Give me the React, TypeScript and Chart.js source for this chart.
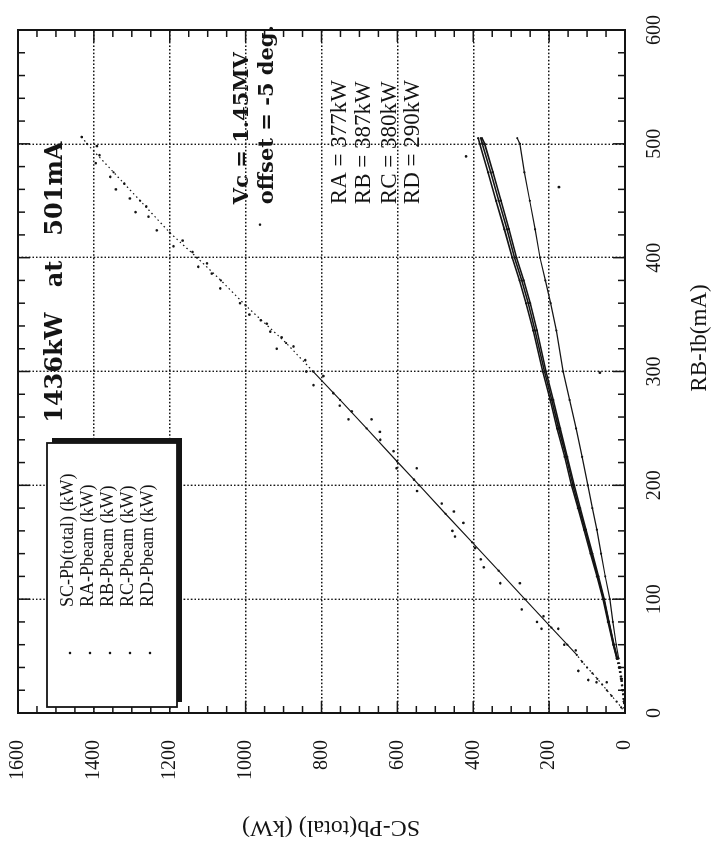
import React, { useEffect, useRef } from "react";
import { Chart, registerables } from "chart.js";

Chart.register(...registerables);

// ---- data (RB-Ib in mA, powers in kW) ----
const xMin = 0;
const xMax = 600;
const xStep = 100;
const yMin = 0;
const yMax = 1600;
const yStep = 200;

const totalCurrent = [0, 5, 10, 15, 20, 25, 30, 35, 40, 45, 51, 60, 75, 100, 125, 150, 175, 200, 221, 250, 275, 300, 325, 358, 380, 400, 422, 450, 475, 500, 506];
const totalPower = [0, 10, 22, 35, 48, 60, 73, 86, 100, 113, 127, 152, 194, 264, 333, 403, 473, 542, 601, 681, 751, 822, 893, 1000, 1065, 1128, 1200, 1278, 1348, 1418, 1432];

const totalScatterCurrent = [506, 498, 490, 483, 471, 465, 460, 452, 445, 440, 436, 429, 424, 415, 410, 405, 395, 392, 386, 373, 360, 350, 345, 342, 335, 330, 322, 320, 310, 300, 296, 288, 281, 270, 265, 258, 258, 247, 240, 230, 215, 215, 205, 195, 184, 177, 167, 160, 155, 145, 135, 128, 114, 114, 91, 85, 80, 74, 74, 60, 55, 37, 29, 27, 27];
const totalScatterPower = [1432, 1392, 1385, 1395, 1357, 1320, 1342, 1305, 1262, 1290, 1256, 962, 1234, 1166, 1190, 1140, 1102, 1125, 1089, 1067, 1015, 990, 960, 944, 935, 905, 874, 918, 843, 840, 795, 821, 769, 752, 720, 729, 668, 646, 645, 610, 602, 549, 556, 548, 483, 451, 426, 455, 448, 395, 380, 372, 329, 277, 272, 215, 232, 220, 176, 160, 130, 123, 97, 75, 48];

const cavityCurrent = [0, 10, 20, 30, 40, 48, 60, 80, 100, 120, 140, 161, 180, 200, 225, 250, 275, 300, 336, 360, 380, 400, 425, 450, 475, 500, 505];
const raPower = [0, 3, 6, 9, 14, 20, 29, 42, 55, 70, 86, 103, 118, 134, 152, 171, 189, 208, 232, 250, 267, 286, 306, 327, 348, 370, 377];
const rbPower = [0, 3, 7, 11, 16, 22, 31, 45, 58, 74, 91, 108, 124, 141, 159, 179, 197, 217, 242, 261, 278, 297, 318, 340, 361, 383, 387];
const rcPower = [0, 3, 6, 10, 15, 21, 30, 43, 56, 72, 88, 105, 121, 137, 155, 175, 193, 212, 237, 255, 272, 291, 311, 333, 354, 376, 380];
const rdPower = [0, 2, 5, 8, 12, 17, 23, 32, 40, 52, 63, 74, 86, 98, 113, 129, 146, 163, 181, 196, 210, 224, 237, 251, 265, 277, 284];

const strayCurrent = [489, 462, 299];
const strayPower = [419, 174, 66];

const legendLabels = ["SC-Pb(total) (kW)", "RA-Pbeam (kW)", "RB-Pbeam (kW)", "RC-Pbeam (kW)", "RD-Pbeam (kW)"];
const xTitle = "RB-Ib(mA)";
const yTitle = "SC-Pb(total) (kW)";
const headline = "1436kW   at   501mA";
const conditionLines = ["Vc = 1.45MV", "offset = -5 deg."];
const cavityLines = ["RA = 377kW", "RB = 387kW", "RC = 380kW", "RD = 290kW"];

// ---- canvas (drawn unrotated, then the whole figure is turned 90° CCW) ----
const CW = 854;
const CH = 716;
const INK = "#141414";

const toPoints = (xs: number[], ys: number[]) => xs.map((x, i) => ({ x, y: ys[i] }));

const paperPlugin = {
  id: "paper",
  beforeDraw(chart: any) {
    const c = chart.ctx;
    c.save();
    c.fillStyle = "#ffffff";
    c.fillRect(0, 0, chart.width, chart.height);
    c.restore();
  },
  afterDraw(chart: any) {
    const ctx: CanvasRenderingContext2D = chart.ctx;
    const a = chart.chartArea;
    const xs = chart.scales.x;
    const ys = chart.scales.y;
    ctx.save();
    ctx.strokeStyle = INK;
    ctx.fillStyle = INK;

    // frame
    ctx.lineWidth = 2;
    ctx.strokeRect(a.left, a.top, a.right - a.left, a.bottom - a.top);

    // inward ticks on all four sides
    ctx.lineWidth = 1.5;
    const seg = (x1: number, y1: number, x2: number, y2: number) => {
      ctx.beginPath();
      ctx.moveTo(x1, y1);
      ctx.lineTo(x2, y2);
      ctx.stroke();
    };
    for (let v = xMin; v <= xMax; v += 20) {
      const p = xs.getPixelForValue(v);
      const len = v % xStep === 0 ? 12 : 7;
      seg(p, a.bottom, p, a.bottom - len);
      seg(p, a.top, p, a.top + len);
    }
    for (let v = yMin; v <= yMax; v += 50) {
      const p = ys.getPixelForValue(v);
      const len = v % yStep === 0 ? 12 : 7;
      seg(a.left, p, a.left + len, p);
      seg(a.right, p, a.right - len, p);
    }

    // legend box with drop shadow
    const bx = a.left + 6;
    const by = a.top + 29;
    const bw = 264;
    const bh = 130;
    ctx.fillStyle = INK;
    ctx.fillRect(bx + 5, by + 5, bw, bh);
    ctx.fillStyle = "#ffffff";
    ctx.fillRect(bx, by, bw, bh);
    ctx.lineWidth = 1.8;
    ctx.strokeRect(bx, by, bw, bh);
    ctx.fillStyle = INK;
    ctx.font = "18px 'Liberation Serif', serif";
    ctx.textBaseline = "middle";
    ctx.textAlign = "left";
    legendLabels.forEach((lab, i) => {
      const ry = by + 21 + i * 20;
      ctx.beginPath();
      ctx.arc(bx + 54, ry + 2, 1.3, 0, Math.PI * 2);
      ctx.fill();
      ctx.fillText(lab, bx + 100, ry);
    });

    // headline
    ctx.font = "bold 24px 'DejaVu Serif', serif";
    ctx.textAlign = "right";
    ctx.fillText(headline, xs.getPixelForValue(502), ys.getPixelForValue(1500));

    // condition and cavity notes
    ctx.textAlign = "left";
    const noteX = xs.getPixelForValue(447);
    ctx.font = "bold 21px 'DejaVu Serif', serif";
    ctx.fillText(conditionLines[0], noteX, ys.getPixelForValue(1007));
    ctx.fillText(conditionLines[1], noteX, ys.getPixelForValue(941));
    ctx.font = "23px 'Liberation Serif', serif";
    const rowVals = [751, 688, 619, 559];
    cavityLines.forEach((t, i) => ctx.fillText(t, noteX, ys.getPixelForValue(rowVals[i])));

    // axis titles
    ctx.font = "23px 'Liberation Serif', serif";
    ctx.textAlign = "center";
    ctx.fillText(xTitle, 516, 700);
    ctx.save();
    ctx.translate(27, 331);
    ctx.rotate(-Math.PI / 2);
    ctx.font = "24px 'Liberation Serif', serif";
    ctx.fillText(yTitle, 0, 0);
    ctx.restore();

    ctx.restore();
  },
};

const dotted = (limitLow: number, limitHigh: number) => ({
  borderDash: (c: any) =>
    c.p0.parsed.x < limitLow || c.p0.parsed.x >= limitHigh ? [1.5, 3] : undefined,
});

export default function App() {
  const ref = useRef<HTMLCanvasElement | null>(null);

  useEffect(() => {
    if (!ref.current) return;
    const lineSet = (label: string, xsArr: number[], ysArr: number[], width: number, low: number, high: number) => ({
      label,
      data: toPoints(xsArr, ysArr),
      showLine: true,
      borderColor: INK,
      borderWidth: width,
      pointRadius: 1.1,
      pointBackgroundColor: INK,
      pointBorderWidth: 0,
      segment: dotted(low, high),
    });
    const chart = new Chart(ref.current, {
      type: "scatter",
      data: {
        datasets: [
          lineSet(legendLabels[0], totalCurrent, totalPower, 1.2, 50, 280),
          {
            label: "SC-Pb(total) scatter",
            data: toPoints(totalScatterCurrent, totalScatterPower),
            showLine: false,
            pointRadius: 1.3,
            pointBackgroundColor: INK,
            pointBorderWidth: 0,
          },
          lineSet(legendLabels[1], cavityCurrent, raPower, 1.6, 47, 1000),
          lineSet(legendLabels[2], cavityCurrent, rbPower, 1.6, 47, 1000),
          lineSet(legendLabels[3], cavityCurrent, rcPower, 1.6, 47, 1000),
          lineSet(legendLabels[4], cavityCurrent, rdPower, 1.2, 47, 1000),
          {
            label: "stray",
            data: toPoints(strayCurrent, strayPower),
            showLine: false,
            pointRadius: 1.4,
            pointBackgroundColor: INK,
            pointBorderWidth: 0,
          },
        ],
      },
      options: {
        animation: false,
        responsive: false,
        devicePixelRatio: 1,
        layout: { padding: { left: 0, top: 18, right: 30, bottom: 0 } },
        plugins: { legend: { display: false }, tooltip: { enabled: false } },
        scales: {
          x: {
            type: "linear",
            min: xMin,
            max: xMax,
            ticks: {
              stepSize: xStep,
              color: INK,
              padding: 18,
              maxRotation: 0,
              callback: (v: any) => String(v),
              font: { family: "'Liberation Serif', serif", size: 20 },
            },
            grid: { color: INK, lineWidth: 1.4, drawTicks: false },
            border: { display: false, dash: [1.6, 2] },
            afterFit: (s: any) => {
              s.height = 91;
              s.paddingLeft = 0;
              s.paddingRight = 0;
            },
          },
          y: {
            type: "linear",
            min: yMin,
            max: yMax,
            ticks: {
              stepSize: yStep,
              color: INK,
              padding: 27,
              callback: (v: any) => String(v),
              font: { family: "'Liberation Serif', serif", size: 20 },
            },
            grid: { color: INK, lineWidth: 1.4, drawTicks: false },
            border: { display: false, dash: [1.6, 2] },
            afterFit: (s: any) => {
              s.width = 141;
              s.paddingTop = 0;
              s.paddingBottom = 0;
            },
          },
        },
      },
      plugins: [paperPlugin],
    } as any);
    return () => chart.destroy();
  }, []);

  return (
    <div
      style={{
        position: "absolute",
        left: 0,
        top: 0,
        width: 716,
        height: 854,
        overflow: "hidden",
        background: "#ffffff",
      }}
    >
      <canvas
        ref={ref}
        width={CW}
        height={CH}
        style={{
          position: "absolute",
          left: 0,
          top: 0,
          width: CW,
          height: CH,
          transformOrigin: "0 0",
          transform: `translateY(${CW}px) rotate(-90deg)`,
        }}
      />
    </div>
  );
}
